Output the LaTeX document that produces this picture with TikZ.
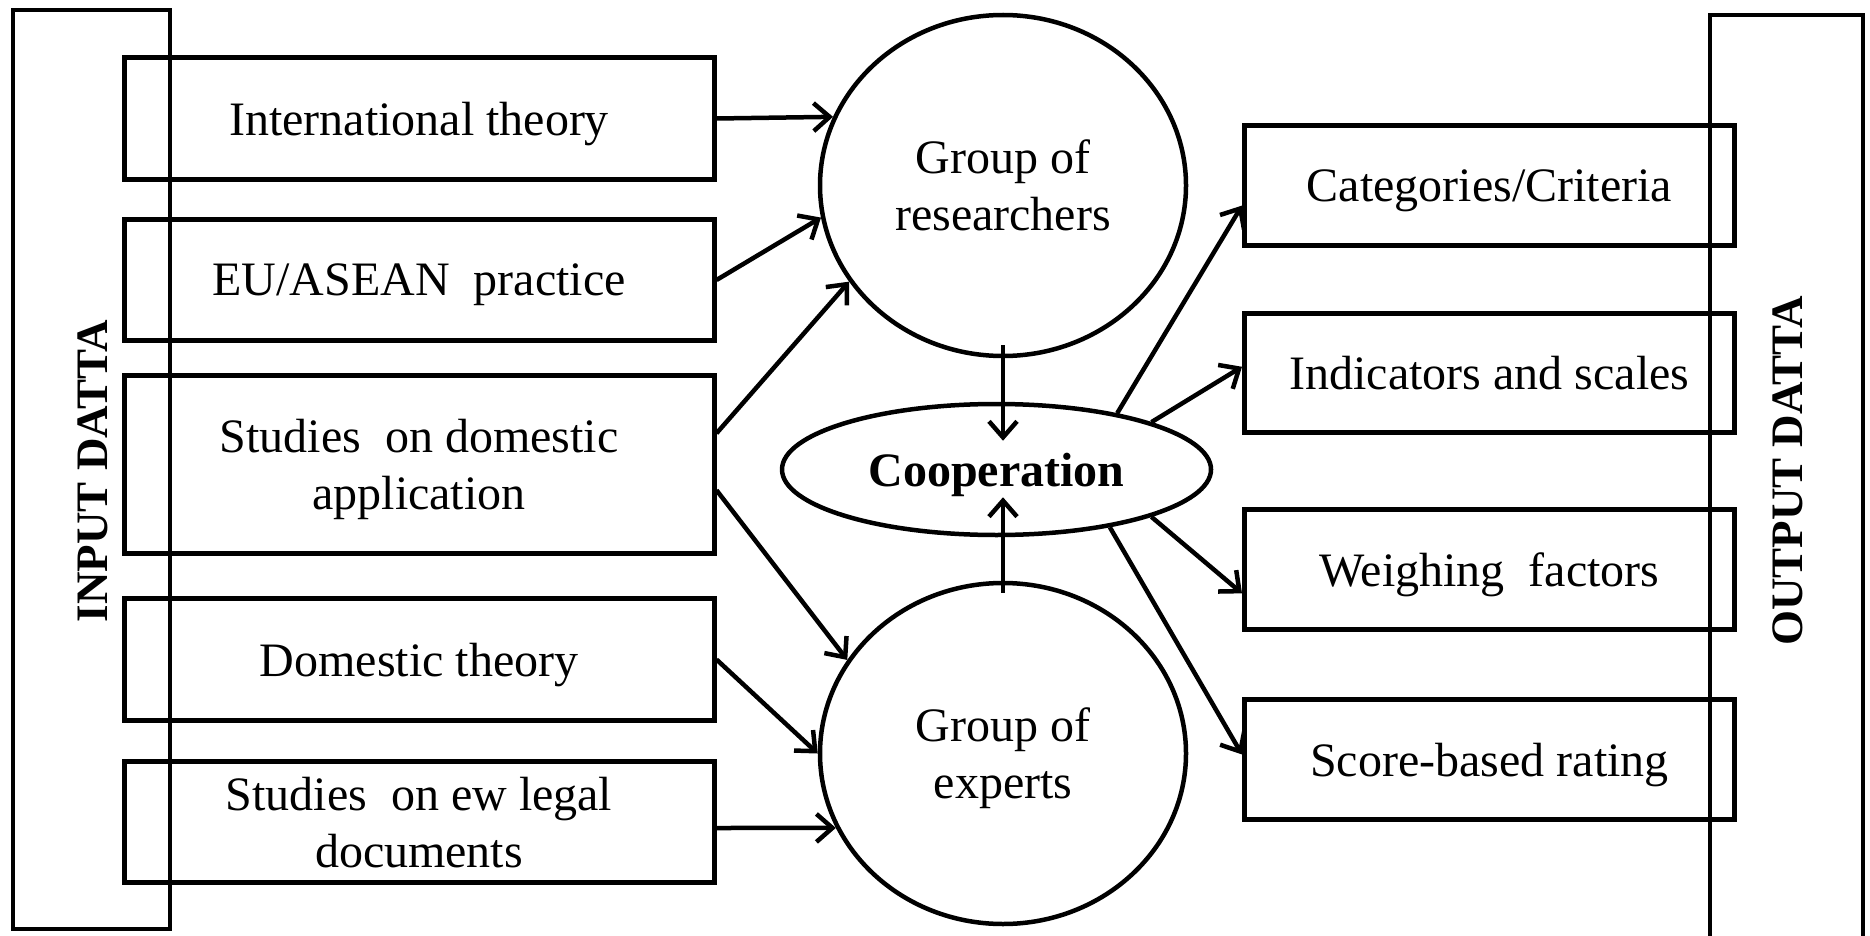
\documentclass[tikz,border=0pt]{standalone}
\usepackage{fontspec}
\setmainfont{Liberation Serif}
\usetikzlibrary{arrows.meta,shapes.geometric,calc}
\begin{document}
\begin{tikzpicture}[x=1pt,y=-1pt,
  inbox/.style={draw, rectangle, line width=5pt, inner sep=0pt, minimum width=590pt, align=center, text depth=0pt, font=\fontsize{48}{57}\selectfont},
  outbox/.style={draw, rectangle, line width=5pt, inner sep=0pt, minimum width=490pt, minimum height=120.5pt, align=center, text depth=0pt, font=\fontsize{48}{57}\selectfont},
  group/.style={draw, ellipse, line width=4.5pt, inner sep=0pt, minimum width=366pt, minimum height=341pt, align=center, text depth=0pt, font=\fontsize{48}{57}\selectfont},
  coopst/.style={draw, ellipse, line width=4.5pt, inner sep=0pt, minimum width=429pt, minimum height=131pt, text depth=0pt, font=\fontsize{48}{57}\selectfont\bfseries},
  frame/.style={draw, rectangle, line width=4.5pt, inner sep=0pt},
  side/.style={rotate=90, inner sep=0pt, font=\fontsize{45}{54}\selectfont\bfseries},
  arr/.style={line width=4.5pt, -{Straight Barb[length=16pt,width=28pt]}}
]
\useasboundingbox (0,0) rectangle (1870,936);

% frames
\node[frame, minimum width=157pt, minimum height=919pt] (inframe) at (91.5,469.5) {};
\node[frame, minimum width=153pt, minimum height=940pt] (outframe) at (1786.5,485) {};
\node[side] (inlabel) at (93,471) {INPUT DATTA};
\node[side] (outlabel) at (1788,471) {OUTPUT DATTA};

% input boxes
\node[inbox, minimum height=122.5pt] (it) at (419,118.5) {International theory};
\node[inbox, minimum height=121.5pt] (eu) at (419,280) {EU/ASEAN\ \ practice};
\node[inbox, minimum height=178.5pt] (sd) at (419,464.5) {Studies\ \ on domestic\\application};
\node[inbox, minimum height=122.5pt] (dt) at (419,659.5) {Domestic theory};
\node[inbox, minimum height=121.5pt] (lg) at (419,822) {Studies\ \ on ew legal\\documents};

% groups
\node[group] (res) at (1003,185.5) {Group of\\researchers};
\node[group] (exp) at (1003,753.5) {Group of\\experts};
\node[coopst] (coop) at (996.5,469.5) {Cooperation};

% output boxes
\node[outbox] (cat) at (1489.5,185.5) {Categories/Criteria};
\node[outbox, minimum height=119.5pt] (ind) at (1489.5,373) {Indicators and scales};
\node[outbox] (wf) at (1489.5,569.5) {Weighing\ \ factors};
\node[outbox] (sbr) at (1489.5,759.5) {Score-based rating};

% input arrows
\draw[arr] (it.east) -- (res.158);
\draw[arr] (eu.east) -- (res.190);
\draw[arr] ($(sd.north east)!0.33!(sd.south east)$) -- (res.212);
\draw[arr] ($(sd.north east)!0.64!(sd.south east)$) -- (exp.149);
\draw[arr] (dt.east) -- (exp.180);
\draw[arr] ($(lg.east)+(0,-6pt)$) -- (exp.204);

% cooperation arrows
\draw[arr] ($(res.south)+(0,13pt)$) -- ($(res.south |- coop.north)+(0,-39pt)$);
\draw[arr] ($(exp.north)+(0,-12pt)$) -- ($(exp.north |- coop.south)+(0,40pt)$);

% output arrows
\draw[arr] (coop.25) -- ($(cat.north west)!0.66!(cat.south west)$);
\draw[arr] (coop.17) -- ($(ind.north west)!0.45!(ind.south west)$);
\draw[arr] (coop.343) -- ($(wf.north west)!0.69!(wf.south west)$);
\draw[arr] (coop.333) -- ($(sbr.north west)!0.46!(sbr.south west)$);
\end{tikzpicture}
\end{document}
